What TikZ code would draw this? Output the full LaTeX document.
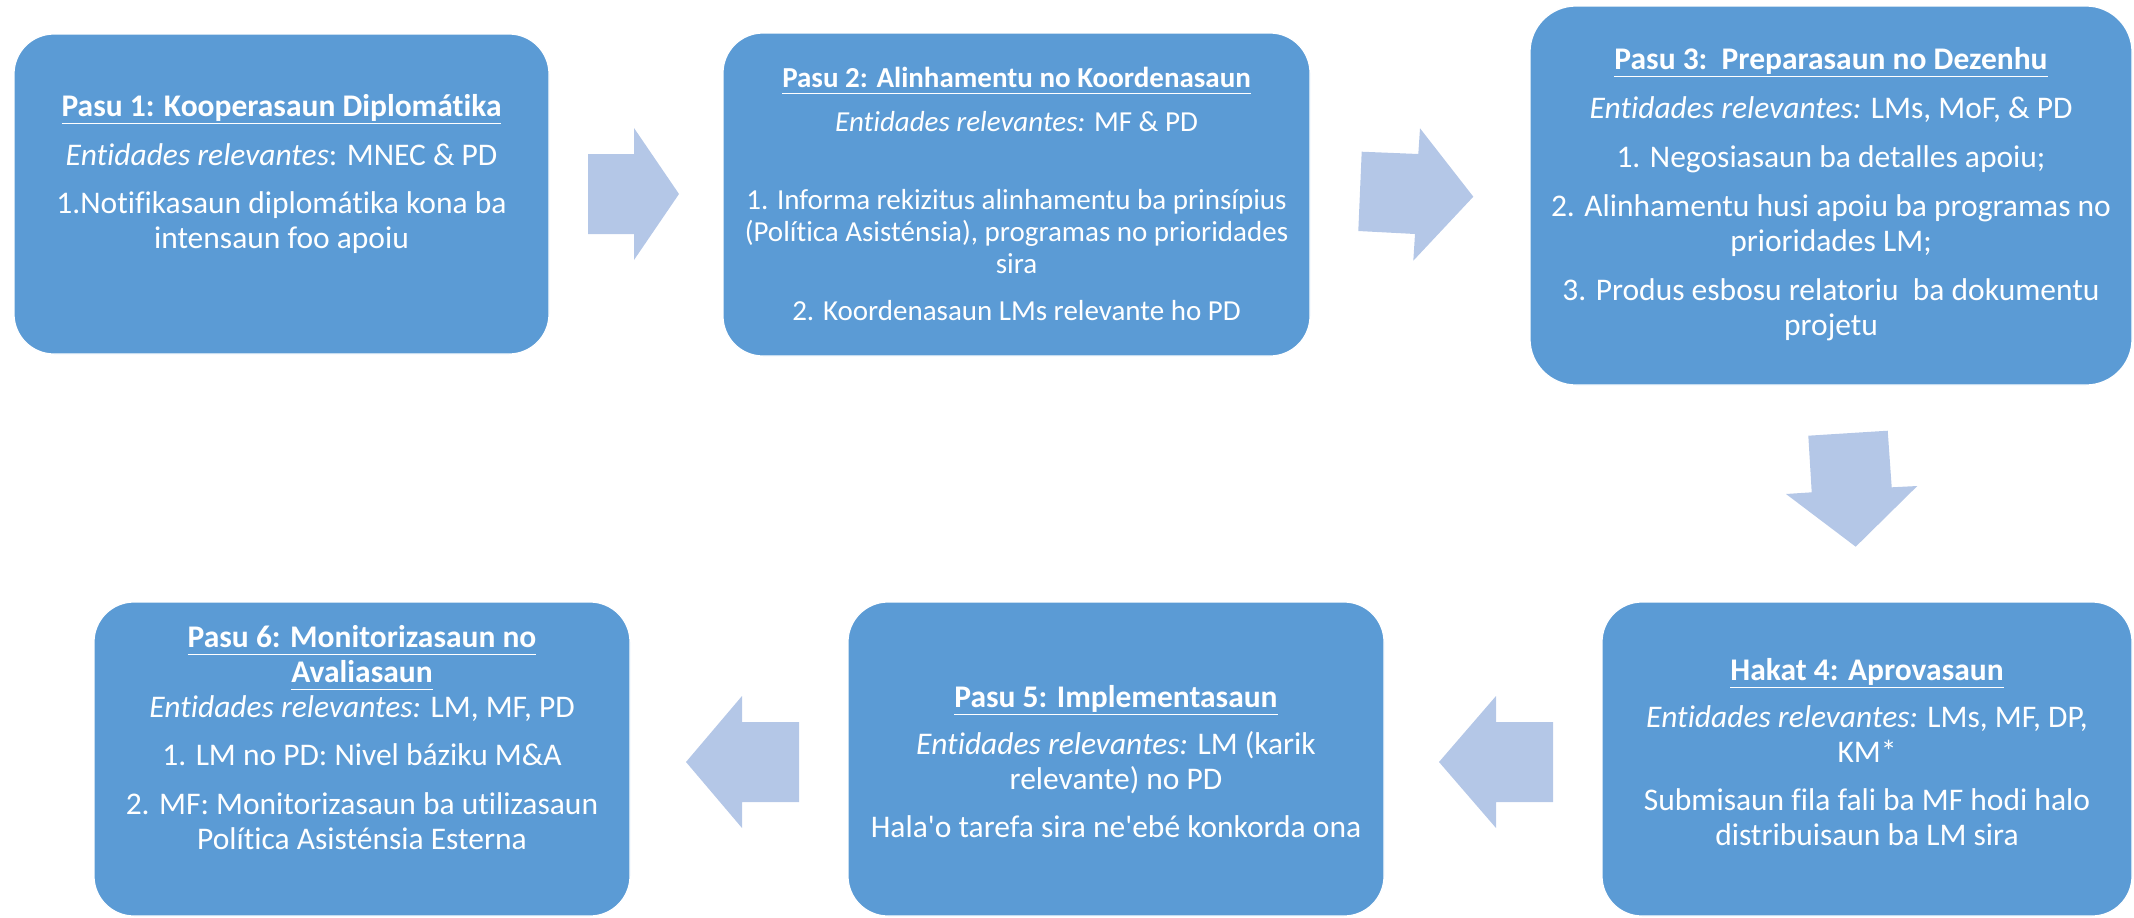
\documentclass[tikz,border=0pt]{standalone}
\usepackage{fontspec}
\setmainfont{Carlito}[Ligatures=NoCommon]
\usetikzlibrary{positioning}
\definecolor{stepblue}{HTML}{5B9BD5}
\definecolor{arrowblue}{HTML}{B4C7E7}
\newcommand{\steptitle}[1]{\underline{\textbf{#1}\vphantom{p}}}
\newcommand{\entid}{Entidades relevantes}
\tikzset{
	stepbox/.style={rectangle,rounded corners=40pt,fill=stepblue,draw=white,line width=1.2pt,inner sep=0,outer sep=0},
	steptext/.style={text=white,align=center,font=\fontsize{31.5}{35}\selectfont,inner sep=0},
	blockarrow/.style={fill=arrowblue}
}

\begin{document}
\begin{tikzpicture}[x=1pt,y=-1pt]
\useasboundingbox (0,0) rectangle (2134,918);

%%%% top row
\node[stepbox,minimum width=535,minimum height=320] (s1) at (281.5,194) {};
\node[stepbox,minimum width=587,minimum height=323] (s2) at (1016.5,194.5) {};
\node[stepbox,minimum width=602,minimum height=379,rounded corners=46pt] (s3) at (1831,195.5) {};

%%%% bottom row
\node[stepbox,minimum width=530,minimum height=314] (s4) at (1867,759) {};
\node[stepbox,minimum width=536,minimum height=314] (s5) at (1116,759) {};
\node[stepbox,minimum width=536,minimum height=314] (s6) at (362,759) {};

%%%% texts
\node[steptext] (t1) at ([yshift=20pt]s1.center) {\steptitle{Pasu 1: Kooperasaun Diplomátika}\\[14pt]
\textit{\entid}: MNEC \& PD\\[13pt]
1.Notifikasaun diplomátika kona ba\\ intensaun foo apoiu};

\node[steptext,font=\fontsize{29}{32}\selectfont] (t2) at ([yshift=1pt]s2.center) {\steptitle{Pasu 2: Alinhamentu no Koordenasaun}\\[12pt]
\textit{\entid:} MF \& PD\\[46pt]
1. Informa rekizitus alinhamentu ba prinsípius\\ (Política Asisténsia), programas no prioridades\\ sira\\[15pt]
2. Koordenasaun LMs relevante ho PD};

\node[steptext] (t3) at ([yshift=1pt]s3.center) {\steptitle{Pasu 3:\ \ Preparasaun no Dezenhu}\\[14pt]
\textit{\entid:} LMs, MoF, \& PD\\[14pt]
1. Negosiasaun ba detalles apoiu;\\[14pt]
2. Alinhamentu husi apoiu ba programas no\\ prioridades LM;\\[14pt]
3. Produs esbosu relatoriu\ \ ba dokumentu\\ projetu};

\node[steptext] (t4) at ([yshift=7pt]s4.center) {\steptitle{Hakat 4: Aprovasaun}\\[12pt]
\textit{\entid:} LMs, MF, DP,\\ KM*\\[13pt]
Submisaun fila fali ba MF hodi halo\\ distribuisaun ba LM sira};

\node[steptext] (t5) at ([yshift=-3pt]s5.center) {\steptitle{Pasu 5: Implementasaun}\\[12pt]
\textit{\entid:} LM (karik\\ relevante) no PD\\[13pt]
Hala\textquotesingle o tarefa sira ne\textquotesingle ebé konkorda ona};

\node[steptext] (t6) at ([yshift=21pt]s6.center) {\steptitle{Pasu 6: Monitorizasaun no}\\ \steptitle{Avaliasaun}\\
\textit{\entid:} LM, MF, PD\\[13pt]
1. LM no PD: Nivel báziku M\&A\\[14pt]
2. MF: Monitorizasaun ba utilizasaun\\ Política Asisténsia Esterna};

%%%% block arrows
\fill[blockarrow] (588,154) -- (634,154) -- (634,128) -- (679,194) -- (634,260) -- (634,234) -- (588,234) -- cycle;
\fill[blockarrow] (1361.7,151.7) -- (1418.3,154) -- (1420,128.3) -- (1473.3,196.7) -- (1413.3,260.7) -- (1415,234) -- (1358.3,231) -- cycle;
\fill[blockarrow] (1808.3,435.7) -- (1887.7,430.7) -- (1891.7,487.3) -- (1917.3,486) -- (1855.7,546.7) -- (1786,494) -- (1811.7,492.3) -- cycle;
\fill[blockarrow] (1439,762) -- (1496,696) -- (1496,722) -- (1553,722) -- (1553,802) -- (1496,802) -- (1496,828) -- cycle;
\fill[blockarrow] (686,762) -- (742,696) -- (742,722) -- (799,722) -- (799,802) -- (742,802) -- (742,828) -- cycle;
\end{tikzpicture}
\end{document}
